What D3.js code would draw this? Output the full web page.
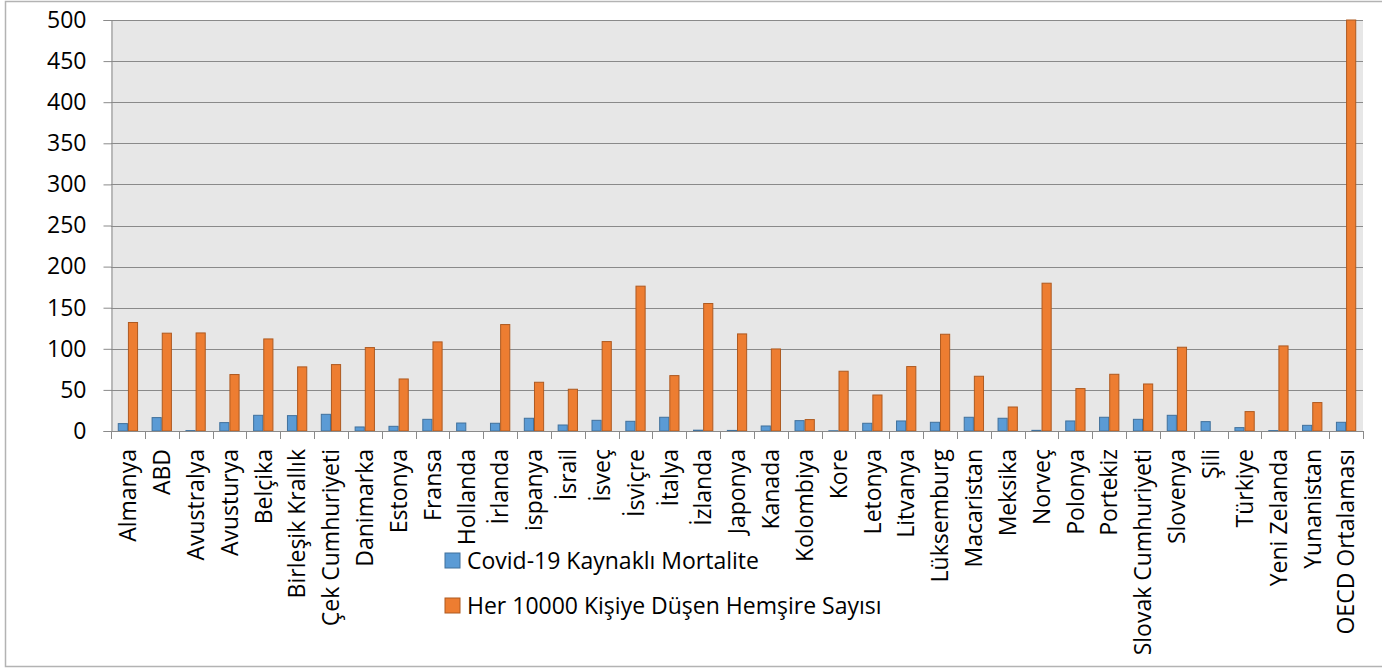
<!DOCTYPE html>
<html>
<head>
<meta charset="utf-8">
<script src="https://cdn.jsdelivr.net/npm/d3@7"></script>
<style>
  html, body { margin: 0; padding: 0; background: #ffffff; }
  svg { display: block; }
  text { font-family: "Open Sans", Lato, sans-serif; fill: #000; }
</style>
</head>
<body>
<svg id="chart" width="1382" height="668"></svg>
<script>
// Countries (OECD members plus the OECD average)
const categories = [
  "Almanya", "ABD", "Avustralya", "Avusturya", "Belçika", "Birleşik Krallık",
  "Çek Cumhuriyeti", "Danimarka", "Estonya", "Fransa", "Hollanda", "İrlanda",
  "ispanya", "İsrail", "İsveç", "İsviçre", "İtalya", "İzlanda", "Japonya",
  "Kanada", "Kolombiya", "Kore", "Letonya", "Litvanya", "Lüksemburg",
  "Macaristan", "Meksika", "Norveç", "Polonya", "Portekiz",
  "Slovak Cumhuriyeti", "Slovenya", "Şili", "Türkiye", "Yeni Zelanda",
  "Yunanistan", "OECD Ortalaması"
];

// Covid-19 mortality
const mortality = [
  9, 16.3, 0.5, 10.2, 19.1, 18.7, 20.3, 4.9, 5.7, 14.2, 9.7, 9.4,
  15.5, 7.3, 13, 11.8, 16.7, 1, 0.7, 6.1, 12.6, 0.3, 9.4, 12.2, 10.6,
  16.7, 15.5, 0.8, 12.2, 16.7, 14.2, 19.1, 11.4, 4.1, 0.5, 6.9, 10.6
];

// Nurses per 10 000 people
const nurses = [
  132, 119, 119.3, 68.7, 112, 78, 80.8, 101.5, 63.3, 108.4, 0, 129.5,
  59.3, 50.8, 108.8, 176.2, 67.4, 155.1, 118.1, 99.8, 13.9, 72.7, 43.8, 78.4, 117.7,
  66.6, 29.2, 179.8, 51.6, 69, 57.2, 101.9, 0, 23.6, 103.5, 34.6, 500
];

const seriesNames = [
  "Covid-19 Kaynaklı Mortalite",
  "Her 10000 Kişiye Düşen Hemşire Sayısı"
];
const seriesColors = ["#5b9bd5", "#ed7d31"];
const seriesStrokes = ["#41719c", "#ae5a21"];

const yTicks = [0, 50, 100, 150, 200, 250, 300, 350, 400, 450, 500];

const svg = d3.select("#chart");
const plot = { left: 111, right: 1363, top: 20, bottom: 431 };
const fontSize = 23;
const fontFamily = "'Open Sans', Lato, sans-serif";

// Outer frame
svg.append("rect")
  .attr("x", 5.5).attr("y", 1.5)
  .attr("width", 1400).attr("height", 665)
  .attr("fill", "#fff")
  .attr("stroke", "#b3b3b3")
  .attr("stroke-width", 1.5);

const x = d3.scaleBand().domain(categories).range([plot.left, plot.right]).padding(0);
const xs = d3.scaleBand().domain([0, 1]).range([0, x.bandwidth()])
  .paddingInner(0).paddingOuter(2 / 3);
const y = d3.scaleLinear().domain([0, 500]).range([plot.bottom, plot.top]);

// Plot background
svg.append("rect")
  .attr("x", plot.left).attr("y", plot.top)
  .attr("width", plot.right - plot.left).attr("height", plot.bottom - plot.top)
  .attr("fill", "#e7e7e7");

// Horizontal gridlines
svg.append("g").selectAll("line")
  .data(yTicks.filter(d => d > 0))
  .join("line")
  .attr("x1", plot.left).attr("x2", plot.right)
  .attr("y1", d => Math.round(y(d)) + 0.5).attr("y2", d => Math.round(y(d)) + 0.5)
  .attr("stroke", "#8a8a8a").attr("stroke-width", 1);

// Y axis
const yAxis = svg.append("g")
  .attr("transform", `translate(${plot.left + 0.5},0)`)
  .call(d3.axisLeft(y).tickValues(yTicks).tickSize(8).tickPadding(17).tickFormat(d3.format("d")));
yAxis.select(".domain").attr("stroke", "#8a8a8a");
yAxis.selectAll(".tick line").attr("stroke", "#8a8a8a");
yAxis.selectAll(".tick text")
  .style("font-family", fontFamily)
  .attr("font-size", fontSize).attr("fill", "#000");

// Bars, one pair per country
const groups = svg.append("g").selectAll("g")
  .data(categories.map((c, i) => ({ c, vals: [mortality[i], nurses[i]] })))
  .join("g")
  .attr("transform", d => `translate(${x(d.c)},0)`);

groups.selectAll("rect")
  .data(d => d.vals.map((v, s) => ({ v, s })).filter(e => e.v > 0))
  .join("rect")
  .attr("x", e => xs(e.s) + 0.5)
  .attr("width", xs.bandwidth() - 1)
  .attr("y", e => y(e.v))
  .attr("height", e => y(0) - y(e.v))
  .attr("fill", e => seriesColors[e.s])
  .attr("stroke", e => seriesStrokes[e.s])
  .attr("stroke-width", 1);

// X axis (category ticks on band boundaries)
const xAxisG = svg.append("g");
xAxisG.append("line")
  .attr("x1", plot.left).attr("x2", plot.right)
  .attr("y1", plot.bottom + 0.5).attr("y2", plot.bottom + 0.5)
  .attr("stroke", "#8a8a8a");
xAxisG.selectAll("line.tick")
  .data(categories.map(c => x(c)).concat([plot.right]))
  .join("line")
  .attr("class", "tick")
  .attr("x1", d => Math.round(d) + 0.5).attr("x2", d => Math.round(d) + 0.5)
  .attr("y1", plot.bottom).attr("y2", plot.bottom + 8)
  .attr("stroke", "#8a8a8a");

// Rotated category labels
xAxisG.selectAll("text")
  .data(categories)
  .join("text")
  .attr("transform", d => `translate(${x(d) + x.bandwidth() / 2},449) rotate(-90)`)
  .attr("dy", "0.36em")
  .attr("text-anchor", "end")
  .attr("font-size", fontSize)
  .text(d => d);

// Legend
const legend = svg.append("g").selectAll("g")
  .data(seriesNames)
  .join("g")
  .attr("transform", (d, i) => `translate(445,${553 + i * 45})`);
legend.append("rect")
  .attr("width", 15).attr("height", 15)
  .attr("fill", (d, i) => seriesColors[i])
  .attr("stroke", (d, i) => seriesStrokes[i]);
legend.append("text")
  .attr("x", 22).attr("y", 15.5)
  .attr("font-size", fontSize)
  .text(d => d);
</script>
</body>
</html>
